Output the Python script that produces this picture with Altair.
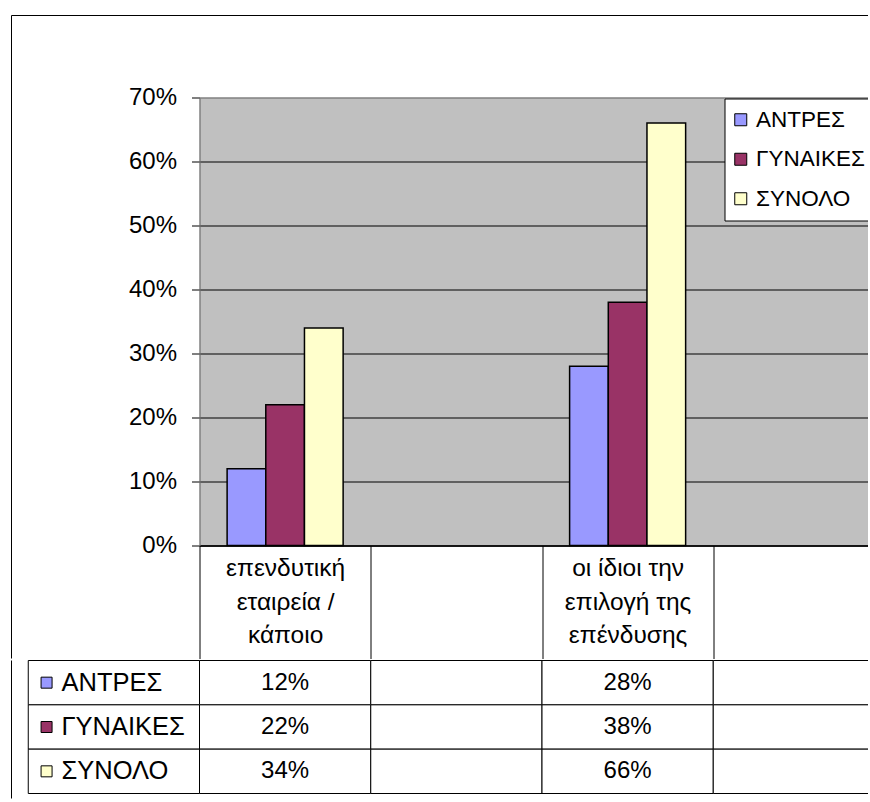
import altair as alt
import pandas as pd

FONT = "Liberation Sans"

# Category labels (one list of lines per column; empty columns have no label)
category_lines = [
    ["επενδυτική", "εταιρεία /", "κάποιο"],
    [],
    ["οι ίδιοι την", "επιλογή της", "επένδυσης"],
    [],
]
series_names = ["ΑΝΤΡΕΣ", "ΓΥΝΑΙΚΕΣ", "ΣΥΝΟΛΟ"]
series_colors = ["#9999FF", "#993366", "#FFFFCC"]
men = [0.12, None, 0.28, None]
women = [0.22, None, 0.38, None]
total = [0.34, None, 0.66, None]
y_ticks = [0.0, 0.1, 0.2, 0.3, 0.4, 0.5, 0.6, 0.7]

# unique keys for the band scale; blank columns get distinct whitespace keys
cat_keys = ["\n".join(lines) if lines else " " * (i + 1) for i, lines in enumerate(category_lines)]
label_col = "series"
table_cols = [label_col] + cat_keys

series_values = dict(zip(series_names, [men, women, total]))

rows = []
for s in series_names:
    for k, v in zip(cat_keys, series_values[s]):
        rows.append({"category": k, "series": s, "value": v})
bar_df = pd.DataFrame([r for r in rows if r["value"] is not None])

cell_rows = []
for s in series_names:
    cell_rows.append({"col": label_col, "series": s, "value": None})
    for k, v in zip(cat_keys, series_values[s]):
        cell_rows.append({"col": k, "series": s, "value": v})
cell_df = pd.DataFrame(cell_rows)
value_df = cell_df.dropna(subset=["value"])
label_df = cell_df[cell_df["col"] == label_col]

PLOT_W, PLOT_H = 671, 448
HEADER_H = 113
BAND_RANGE = [0, 685]
color_scale = alt.Scale(domain=series_names, range=series_colors)

bars = alt.Chart(bar_df).mark_bar(stroke="black", strokeWidth=1.5).encode(
    x=alt.X(
        "category:N",
        sort=cat_keys,
        scale=alt.Scale(domain=cat_keys, range=BAND_RANGE, paddingInner=0, paddingOuter=0),
        axis=alt.Axis(
            title=None,
            tickBand="extent",
            tickSize=HEADER_H,
            tickColor="black",
            domainColor="black",
            domainWidth=1.5,
            labelAngle=0,
            labelFont=FONT,
            labelFontSize=24.5,
            labelColor="black",
            labelLineHeight=33.5,
            labelBaseline="top",
            labelPadding=-102,
            labelOverlap=False,
            labelLimit=400,
            labelExpr="split(datum.label, '\\n')",
        ),
    ),
    xOffset=alt.XOffset(
        "series:N",
        sort=series_names,
        scale=alt.Scale(domain=series_names, paddingInner=0, paddingOuter=0.714),
    ),
    y=alt.Y(
        "value:Q",
        scale=alt.Scale(domain=[0, 0.7], nice=False),
        axis=alt.Axis(
            title=None,
            values=y_ticks,
            format=".0%",
            labelFont=FONT,
            labelFontSize=24,
            labelColor="black",
            labelPadding=15,
            tickSize=8,
            tickColor="black",
            domainColor="#808080",
            gridColor={"condition": {"test": "datum.value >= 0.69", "value": "#808080"}, "value": "black"},
        ),
    ),
    color=alt.Color(
        "series:N",
        scale=color_scale,
        sort=series_names,
        legend=alt.Legend(
            title=None,
            orient="none",
            legendX=525,
            legendY=1,
            fillColor="white",
            strokeColor="black",
            padding=10,
            symbolType="square",
            symbolSize=144,
            symbolOffset=-5,
            symbolStrokeColor="black",
            symbolStrokeWidth=1,
            labelFont=FONT,
            labelFontSize=22.5,
            labelColor="black",
            labelOffset=4,
            rowPadding=16.5,
        ),
    ),
)

one = pd.DataFrame({"k": [0]})
frame_top = alt.Chart(one).mark_rule(color="black", strokeWidth=1).encode(
    x=alt.value(-188), x2=alt.value(PLOT_W), y=alt.value(-82)
)
frame_left_top = alt.Chart(one).mark_rule(color="black", strokeWidth=1).encode(
    x=alt.value(-188), y=alt.value(-82), y2=alt.value(PLOT_H + HEADER_H)
)

top = alt.layer(frame_top, frame_left_top, bars).properties(
    width=PLOT_W,
    height=PLOT_H,
    view=alt.ViewBackground(fill="#C0C0C0", stroke="#808080", strokeWidth=1),
)

# Data table under the plot
TABLE_H = 133
tab_scale = alt.Scale(domain=table_cols, range=[-171.25, 685], paddingInner=0, paddingOuter=0)
x_tab = alt.X("col:N", sort=table_cols, scale=tab_scale, axis=None)
y_tab = alt.Y(
    "series:N",
    sort=series_names,
    scale=alt.Scale(domain=series_names, paddingInner=0, paddingOuter=0),
    axis=None,
)

cells = alt.Chart(cell_df).mark_rect(fill="white", stroke="black", strokeWidth=1).encode(x=x_tab, y=y_tab)
cell_text = alt.Chart(value_df).mark_text(
    font=FONT, fontSize=24, color="black", align="center", baseline="middle"
).encode(x=x_tab, y=y_tab, text=alt.Text("value:Q", format=".0%"))
row_keys = alt.Chart(label_df).mark_square(
    size=121, stroke="black", strokeWidth=1, opacity=1, filled=True
).encode(
    x=alt.X("col:N", sort=table_cols, bandPosition=0.107, scale=tab_scale, axis=None),
    y=y_tab,
    color=alt.Color("series:N", scale=color_scale, sort=series_names, legend=None),
)
row_labels = alt.Chart(label_df).mark_text(
    font=FONT, fontSize=25.5, color="black", align="left", baseline="middle"
).encode(
    x=alt.X("col:N", sort=table_cols, bandPosition=0.194, scale=tab_scale, axis=None),
    y=y_tab,
    text="series:N",
)
frame_left_bottom = alt.Chart(one).mark_rule(color="black", strokeWidth=1).encode(
    x=alt.value(-188), y=alt.value(0), y2=alt.value(138)
)

bottom = alt.layer(cells, cell_text, row_keys, row_labels, frame_left_bottom).properties(
    width=PLOT_W,
    height=TABLE_H,
    view=alt.ViewBackground(fill=None, stroke=None),
)

chart = (
    alt.vconcat(top, bottom, spacing=0)
    .resolve_scale(x="independent", y="independent", color="shared")
    .properties(padding={"left": 10.5, "top": 14.5, "right": -18, "bottom": 0}, background="white")
    .configure(font=FONT)
)

chart.save("out.html", embed_options={"renderer": "svg", "actions": False})
